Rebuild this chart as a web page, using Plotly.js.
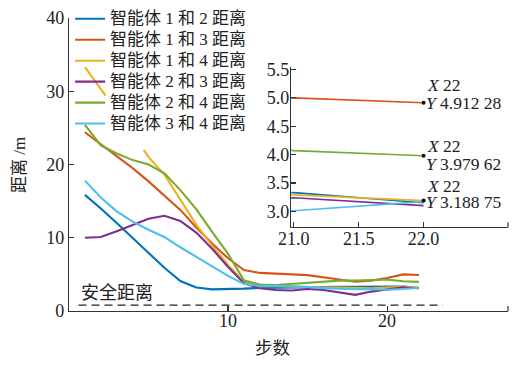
<!DOCTYPE html>
<html>
<head>
<meta charset="utf-8">
<script src="https://cdn.plot.ly/plotly-3.0.1.min.js"></script>
<style>html,body{margin:0;padding:0;background:#fff;}#chart{width:522px;height:367px;}</style>
</head>
<body>
<div id="chart"></div>
<script>
var steps = [1,2,3,4,5,6,7,8,9,10,11,12,13,14,15,16,17,18,19,20,21,22];
var seriesNames = ['智能体 1 和 2 距离','智能体 1 和 3 距离','智能体 1 和 4 距离','智能体 2 和 3 距离','智能体 2 和 4 距离','智能体 3 和 4 距离'];
var d12 = [15.85,14.0,12.0,10.0,7.9,5.9,4.1,3.2,2.95,2.95,3.05,3.15,3.2,3.2,3.25,3.3,3.3,3.3,3.3,3.25,3.33,3.15];
var d13 = [24.4,22.8,21.2,19.5,17.7,15.8,13.8,11.4,9.2,7.2,5.6,5.2,5.05,5.0,4.9,4.55,4.3,4.0,4.15,4.5,5.0,4.91228];
var steps14 = [1,2.3,2.3,4.7,5,6,7,8,9,10,11,12,13,14,15,16,17,18,19,20,21,22];
var d14 = [33.3,29.4,null,22.0,21.0,18.6,15.2,11.8,8.9,6.3,4.0,3.4,3.4,3.3,3.25,3.2,3.2,3.1,3.1,3.2,3.29,3.18875];
var d23 = [10.0,10.1,10.9,11.8,12.6,13.0,12.3,10.7,8.5,6.0,3.8,3.1,2.87,2.8,3.0,2.87,2.5,2.2,2.65,2.9,3.24,3.10];
var d24 = [25.4,22.6,21.5,20.6,20.0,18.8,16.5,13.9,10.8,7.8,4.2,3.6,3.55,3.7,3.9,4.0,4.15,4.15,4.2,4.3,4.07,3.97962];
var d34 = [17.8,15.5,13.6,12.2,11.1,10.1,8.7,7.4,6.0,4.8,3.7,3.4,3.45,3.4,3.3,3.1,3.0,2.96,2.96,2.9,3.01,3.17];
var safeDistance = 0.8;
var safeLineX = [0.6, 23.5];
var safeLabel = '安全距离';
var xTicks = [10, 20];
var yTicks = [0, 10, 20, 30, 40];
var insetXTicks = [21.0, 21.5, 22.0];
var insetYTicks = [3.0, 3.5, 4.0, 4.5, 5.0, 5.5];
var tipLabels = ['4.912 28', '3.979 62', '3.188 75'];

var colors = ['#0072BD','#D95319','#EDB120','#7E2F8E','#77AC30','#4DBEEE'];
var xs = [steps, steps, steps14, steps, steps, steps];
var ys = [d12, d13, d14, d23, d24, d34];

var traces = [];
for (var i = 0; i < 6; i++) {
  traces.push({x: xs[i], y: ys[i], type: 'scatter', mode: 'lines',
    name: '<span style="font-size:17px">' + seriesNames[i] + '</span>',
    line: {color: colors[i], width: 2.1}, xaxis: 'x', yaxis: 'y', connectgaps: false});
}
for (var j = 0; j < 6; j++) {
  traces.push({x: xs[j], y: ys[j], type: 'scatter', mode: 'lines', showlegend: false,
    line: {color: colors[j], width: 1.6}, xaxis: 'x2', yaxis: 'y2', hoverinfo: 'skip'});
}
traces.push({x: safeLineX, y: [safeDistance, safeDistance], type: 'scatter', mode: 'lines', showlegend: false,
  line: {color: '#222', width: 1.2, dash: '8px,5px'}, xaxis: 'x', yaxis: 'y'});
var last = steps.length - 1;
var tipY = [d13[last], d24[last], d14[d14.length - 1]];
traces.push({x: [22, 22, 22], y: tipY, type: 'scatter', mode: 'markers', showlegend: false,
  marker: {color: '#111', size: 4}, xaxis: 'x2', yaxis: 'y2'});

var serif = '"Liberation Serif", "Times New Roman", "Noto Sans CJK SC", serif';
var cjk = '"Liberation Serif", "Noto Sans CJK SC", sans-serif';
function tipFont() { return {family: serif, size: 17.5, color: '#222'}; }
var xShiftY = [18, 9.5, 15];
var yShiftY = [0, -8, -1.6];
var annotations = [
  {text: safeLabel, x: 0.6, y: 2.5, xref: 'x', yref: 'y', xanchor: 'left', yanchor: 'middle', showarrow: false,
    font: {family: cjk, size: 18, color: '#222'}},
  {text: '距离 /m', x: -0.114, y: 0.498, xref: 'paper', yref: 'paper', textangle: -90, xanchor: 'center', yanchor: 'middle', showarrow: false,
    font: {family: cjk, size: 17, color: '#222'}},
  {text: '步数', x: 0.4636, y: -0.126, xref: 'paper', yref: 'paper', xanchor: 'center', yanchor: 'middle', showarrow: false,
    font: {family: cjk, size: 17.5, color: '#222'}}
];
for (var k = 0; k < 3; k++) {
  annotations.push({text: '<i>X</i> 22', x: 22, y: tipY[k], xref: 'x2', yref: 'y2', xanchor: 'left', yanchor: 'middle',
    xshift: 1, yshift: xShiftY[k], showarrow: false, font: tipFont()});
  annotations.push({text: '<i>Y</i> ' + tipLabels[k], x: 22, y: tipY[k], xref: 'x2', yref: 'y2', xanchor: 'left', yanchor: 'middle',
    xshift: 0, yshift: yShiftY[k], showarrow: false, font: tipFont()});
}

function axisStyle(extra) {
  var a = {showgrid: false, zeroline: false, showline: true, linecolor: '#333', linewidth: 1.2,
    ticks: 'inside', ticklen: 5, tickcolor: '#333', tickwidth: 1.2,
    tickfont: {family: serif, size: 18, color: '#222'}};
  for (var key in extra) a[key] = extra[key];
  return a;
}

var layout = {
  width: 522, height: 367,
  margin: {l: 69, r: 14, t: 18, b: 56, pad: 0, autoexpand: false},
  font: {family: serif, size: 18, color: '#222'},
  paper_bgcolor: '#fff', plot_bgcolor: 'rgba(0,0,0,0)',
  showlegend: true,
  legend: {x: 0.0025, y: 1.05, xanchor: 'left', yanchor: 'top', bgcolor: 'rgba(0,0,0,0)', borderwidth: 0,
    font: {family: cjk, size: 13.8, color: '#222'}, tracegroupgap: 0, itemwidth: 30},
  xaxis: axisStyle({domain: [0, 1], range: [0, 27.6], tickvals: xTicks, anchor: 'y', ticklabelstandoff: -7}),
  yaxis: axisStyle({domain: [0, 1], range: [0, 40], tickvals: yTicks, anchor: 'x'}),
  xaxis2: axisStyle({domain: [0.506, 1], range: [20.98, 22.65], tickvals: insetXTicks, tickformat: '.1f', anchor: 'y2', ticklabelstandoff: -5}),
  yaxis2: axisStyle({domain: [0.286, 0.834], range: [2.72, 5.55], tickvals: insetYTicks, tickformat: '.1f', anchor: 'x2', ticklabelstandoff: -3}),
  annotations: annotations,
  shapes: [
    {type: 'line', xref: 'x domain', yref: 'y domain', x0: 1, x1: 1, y0: 0, y1: 0.017, line: {color: '#333', width: 1.2}},
    {type: 'line', xref: 'x2 domain', yref: 'y2 domain', x0: 1, x1: 1, y0: 0, y1: 0.031, line: {color: '#333', width: 1.2}}
  ]
};

Plotly.newPlot('chart', traces, layout, {displayModeBar: false, staticPlot: true});
</script>
</body>
</html>
